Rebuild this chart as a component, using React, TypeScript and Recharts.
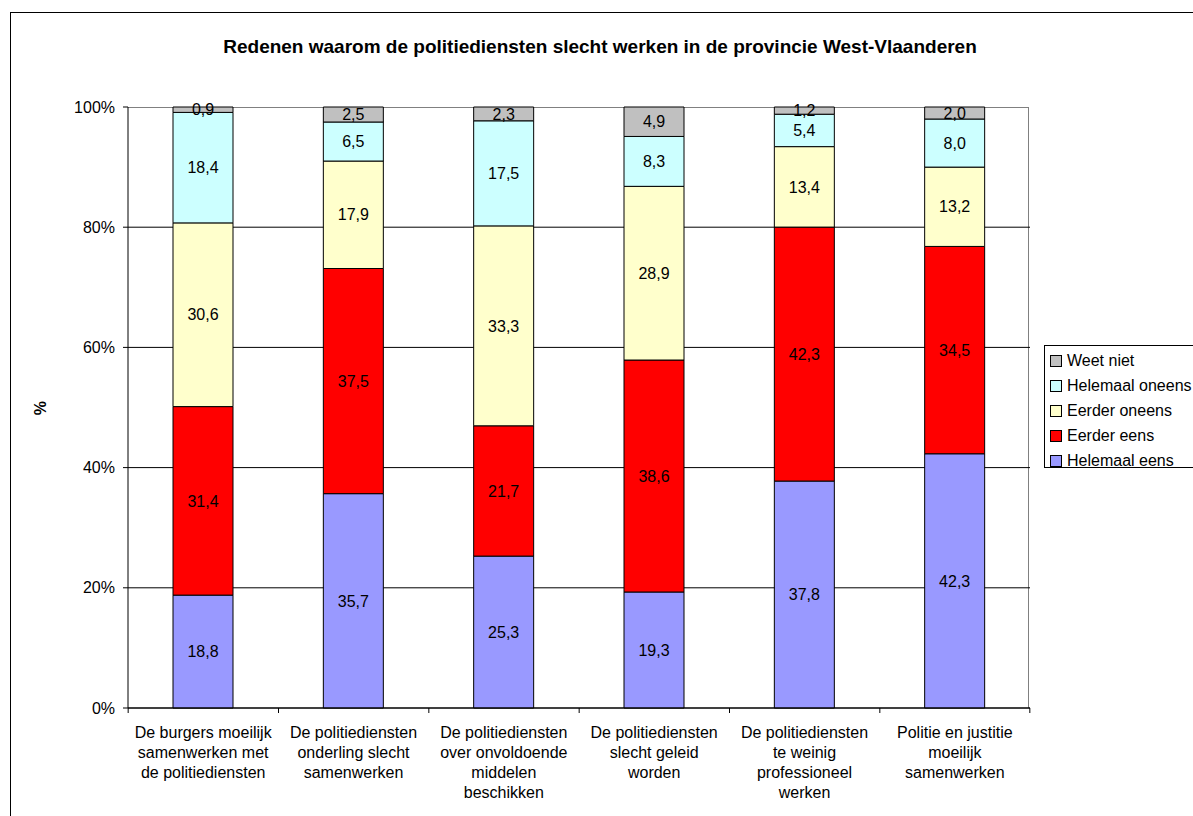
import React from "react";
import {
  Bar,
  BarChart,
  CartesianGrid,
  LabelList,
  XAxis,
  YAxis,
} from "recharts";

// categories (line breaks as in the original axis labels)
const categories = [
  "De burgers moeilijk\nsamenwerken met\nde politiediensten",
  "De politiediensten\nonderling slecht\nsamenwerken",
  "De politiediensten\nover onvoldoende\nmiddelen\nbeschikken",
  "De politiediensten\nslecht geleid\nworden",
  "De politiediensten\nte weinig\nprofessioneel\nwerken",
  "Politie en justitie\nmoeilijk\nsamenwerken",
];

// series values (%), bottom to top
const helemaalEens = [18.8, 35.7, 25.3, 19.3, 37.8, 42.3];
const eerderEens = [31.4, 37.5, 21.7, 38.6, 42.3, 34.5];
const eerderOneens = [30.6, 17.9, 33.3, 28.9, 13.4, 13.2];
const helemaalOneens = [18.4, 6.5, 17.5, 8.3, 5.4, 8.0];
const weetNiet = [0.9, 2.5, 2.3, 4.9, 1.2, 2.0];

const yTicks = [0, 0.2, 0.4, 0.6, 0.8, 1];

const seriesNames: Record<string, string> = {
  helemaalEens: "Helemaal eens",
  eerderEens: "Eerder eens",
  eerderOneens: "Eerder oneens",
  helemaalOneens: "Helemaal oneens",
  weetNiet: "Weet niet",
};

const seriesColors: Record<string, string> = {
  helemaalEens: "#9999FF",
  eerderEens: "#FF0000",
  eerderOneens: "#FFFFCC",
  helemaalOneens: "#CCFFFF",
  weetNiet: "#C0C0C0",
};

const stackOrder = [
  "helemaalEens",
  "eerderEens",
  "eerderOneens",
  "helemaalOneens",
  "weetNiet",
];

const data = categories.map((name, i) => ({
  name,
  helemaalEens: helemaalEens[i],
  eerderEens: eerderEens[i],
  eerderOneens: eerderOneens[i],
  helemaalOneens: helemaalOneens[i],
  weetNiet: weetNiet[i],
}));

const FONT = "'Liberation Sans', Arial, sans-serif";
const HALF_BAND = 75;

const formatValue = (v: any) => Number(v).toFixed(1).replace(".", ",");

function CategoryTick(props: any) {
  const { x, y, payload, index } = props;
  const lines = String(payload.value).split("\n");
  return (
    <g>
      <line x1={x - HALF_BAND} y1={y} x2={x - HALF_BAND} y2={y + 5} stroke="#000" />
      {index === categories.length - 1 && (
        <line x1={x + HALF_BAND} y1={y} x2={x + HALF_BAND} y2={y + 5} stroke="#000" />
      )}
      <text x={x} y={y + 30} textAnchor="middle" fill="#000" fontSize={16}>
        {lines.map((l, i) => (
          <tspan key={i} x={x} dy={i === 0 ? 0 : 20}>
            {l}
          </tspan>
        ))}
      </text>
    </g>
  );
}

function GridLine(props: any) {
  const { x1, x2, y1, y2 } = props;
  // the 100% line is the grey plot border, drawn separately
  if (y1 < 110) return <g />;
  return <line x1={x1} x2={x2} y1={y1} y2={y2} stroke="#000" strokeWidth={1} />;
}

export default function App() {
  return (
    <div
      style={{
        position: "absolute",
        left: 0,
        top: 0,
        width: 1193,
        height: 816,
        overflow: "hidden",
        fontFamily: FONT,
        background: "#fff",
      }}
    >
      {/* outer chart border */}
      <div
        style={{
          position: "absolute",
          left: 10,
          top: 12,
          width: 1300,
          height: 900,
          borderLeft: "1px solid #000",
          borderTop: "1px solid #000",
        }}
      />
      {/* plot area border (grey) */}
      <div
        style={{
          position: "absolute",
          left: 128,
          top: 107,
          width: 901,
          height: 601,
          borderTop: "1px solid #808080",
          borderRight: "1px solid #808080",
          boxSizing: "border-box",
        }}
      />
      <div
        style={{
          position: "absolute",
          left: 10,
          top: 36,
          width: 1180,
          textAlign: "center",
          fontSize: 19,
          lineHeight: "22px",
          fontWeight: "bold",
          color: "#000",
        }}
      >
        Redenen waarom de politiediensten slecht werken in de provincie West-Vlaanderen
      </div>

      <div style={{ position: "absolute", left: 0, top: 0 }}>
        <BarChart
          width={1193}
          height={816}
          data={data}
          stackOffset="expand"
          margin={{ top: 107, right: 163, bottom: 0, left: 0 }}
          barSize={60}
        >
          <CartesianGrid vertical={false} horizontal={GridLine} />
          <XAxis
            dataKey="name"
            height={108}
            axisLine={{ stroke: "#000" }}
            tickLine={false}
            tickSize={0}
            tickMargin={0}
            interval={0}
            tick={<CategoryTick />}
          />
          <YAxis
            width={128}
            domain={[0, 1]}
            ticks={yTicks}
            tickFormatter={(v) => `${Math.round(v * 100)}%`}
            axisLine={{ stroke: "#000" }}
            tickLine={{ stroke: "#000" }}
            tickSize={5}
            tickMargin={8}
            tick={{ fill: "#000", fontSize: 16 }}
            label={{
              content: () => (
                <text
                  x={46}
                  y={408}
                  transform="rotate(-90 46 408)"
                  textAnchor="middle"
                  fontSize={16}
                  fontWeight="bold"
                  fill="#000"
                >
                  %
                </text>
              ),
            }}
          />
          {stackOrder.map((key) => (
            <Bar
              key={key}
              dataKey={key}
              name={seriesNames[key]}
              stackId="a"
              fill={seriesColors[key]}
              stroke="#000"
              strokeWidth={1}
              isAnimationActive={false}
            >
              <LabelList
                dataKey={key}
                position="center"
                formatter={formatValue}
                fill="#000"
                fontSize={16}
              />
            </Bar>
          ))}
        </BarChart>
      </div>

      {/* legend */}
      <div
        style={{
          position: "absolute",
          left: 1044,
          top: 345,
          width: 160,
          height: 123,
          border: "1px solid #000",
          boxSizing: "border-box",
          paddingTop: 2,
        }}
      >
        {[...stackOrder].reverse().map((key) => (
          <div
            key={key}
            style={{
              display: "flex",
              alignItems: "center",
              height: 25,
              fontSize: 16,
              color: "#000",
            }}
          >
            <span
              style={{
                display: "inline-block",
                width: 10,
                height: 10,
                marginLeft: 5,
                marginRight: 5,
                background: seriesColors[key],
                border: "1px solid #000",
              }}
            />
            <span>{seriesNames[key]}</span>
          </div>
        ))}
      </div>
    </div>
  );
}
